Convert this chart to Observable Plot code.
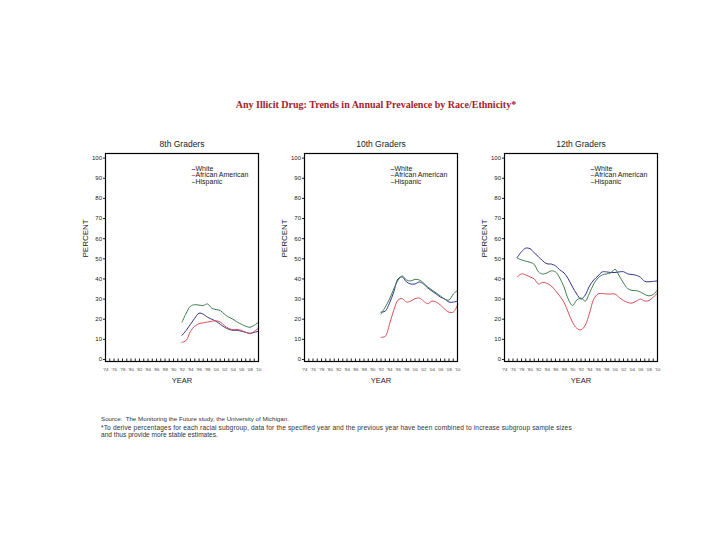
<!DOCTYPE html>
<html>
<head>
<meta charset="utf-8">
<script src="https://cdn.jsdelivr.net/npm/d3@7"></script>
<script src="https://cdn.jsdelivr.net/npm/@observablehq/plot@0.6"></script>
<style>
  html, body { margin: 0; padding: 0; background: #fff; }
  #page { position: relative; width: 728px; height: 546px; overflow: hidden; font-family: "Liberation Sans", Arial, sans-serif; color: #222; }
  .abs { position: absolute; white-space: nowrap; }
  #title { left: 0; width: 752px; top: 99px; text-align: center; font-family: "Liberation Serif", "Times New Roman", serif; font-weight: bold; font-size: 10px; color: #a01e2a; }
  .foot { left: 101px; font-size: 6.2px; color: #333; }
  .panel { position: absolute; }
</style>
</head>
<body>
<div id="page">
  <div id="title" class="abs">Any Illicit Drug: Trends in Annual Prevalence by Race/Ethnicity*</div>
  <div class="panel" id="p8" style="left:80px;top:130px"></div>
  <div class="panel" id="p10" style="left:279px;top:130px"></div>
  <div class="panel" id="p12" style="left:479px;top:130px"></div>
  <div class="abs foot" style="top:415px">Source:&nbsp; The Monitoring the Future study, the University of Michigan.</div>
  <div class="abs foot" style="top:423.5px;font-size:6.6px;letter-spacing:0.13px">*To derive percentages for each racial subgroup, data for the specified year and the previous year have been combined to increase subgroup sample sizes</div>
  <div class="abs foot" style="top:430.5px;font-size:6.6px">and thus provide more stable estimates.</div>
</div>
<script>
// ---- data ----
const seriesNames = ["White", "African American", "Hispanic"];
const seriesColors = ["#34348f", "#d9505a", "#3e7f52"];
const yTicks = [0, 10, 20, 30, 40, 50, 60, 70, 80, 90, 100];
const allYears = d3.range(1974, 2011);
const labelYears = d3.range(1974, 2011, 2);

const years8 = d3.range(1992, 2011);
const white8 = [12, 14.5, 17.5, 20.5, 23, 22.5, 21, 20, 19, 17.5, 16, 15, 14.5, 14.5, 14, 13.5, 13, 13.5, 14];
const aa8 = [8.5, 9.5, 14, 16.5, 17.8, 18.2, 18.6, 19, 19.2, 18.6, 16.8, 15.4, 14.8, 14.9, 14.4, 13.5, 12.8, 14, 15.5];
const hisp8 = [18.5, 23, 26.5, 27.2, 27, 26.8, 27.6, 25.5, 24.8, 24.3, 22.5, 21, 20, 18.5, 17.5, 16.5, 16, 17, 18.5];

const years10 = d3.range(1992, 2011);
const white10 = [23.5, 24, 28, 33.5, 40, 41, 38.5, 37.5, 37.5, 38.5, 37.5, 35.5, 34, 32.5, 31, 30, 28.5, 28.5, 29];
const aa10 = [11, 11.5, 17.5, 24.5, 29.5, 30.2, 28.5, 29, 30.2, 30.5, 29, 27.7, 29, 28.5, 27, 25, 23.5, 23.5, 27];
const hisp10 = [22.5, 26, 30, 35, 39.3, 41.5, 39.5, 39, 39.8, 39.5, 38, 36, 34.5, 33, 31.5, 30, 29.5, 32.5, 34.3];

const years12 = d3.range(1977, 2011);
const white12 = [50.7, 53.5, 55.3, 55, 53, 51, 49, 47.5, 47.4, 46.5, 44.5, 43, 40, 36, 32.5, 30, 32, 36.5, 39.5, 41.5, 43.5, 43.5, 43.2, 43.2, 43.5, 43.6, 42.5, 42.2, 41.8, 40.8, 38.8, 38.6, 38.8, 39];
const aa12 = [41, 42.5, 42, 41, 40, 37.5, 38.3, 37.8, 36.5, 34.2, 31.5, 28.4, 23.4, 18.5, 15.5, 14.7, 17, 23, 30, 32.5, 32.8, 32.5, 32.5, 32.5, 30.8, 29.3, 28.3, 28, 29, 30, 29, 29.3, 31, 33];
const hisp12 = [50.3, 49.5, 48.8, 48.3, 47.2, 43.5, 42.4, 43, 44, 43.5, 40.5, 36, 30, 26.8, 29.5, 30.5, 29, 33, 37.5, 40.5, 42, 42.5, 43, 44.8, 41.5, 38, 35.2, 34.3, 34.2, 33.5, 32.3, 31.6, 32.3, 34.5];

function rows(years, w, a, h) {
  const out = [];
  years.forEach((yr, i) => {
    out.push({year: yr, value: w[i], group: seriesNames[0]});
    out.push({year: yr, value: a[i], group: seriesNames[1]});
    out.push({year: yr, value: h[i], group: seriesNames[2]});
  });
  return out;
}

function panel(title, data) {
  const font = "Liberation Sans, Arial, sans-serif";
  const legendMarks = [];
  seriesNames.forEach((s, i) => {
    legendMarks.push(Plot.text(["–"], {frameAnchor: "top-left", dx: 86, dy: 12.5 + i * 6.3, fill: seriesColors[i], fontSize: 7, textAnchor: "start", fontWeight: "bold"}));
    legendMarks.push(Plot.text([s], {frameAnchor: "top-left", dx: 90, dy: 12.5 + i * 6.3, fill: "#222", fontSize: 7, textAnchor: "start"}));
  });
  return Plot.plot({
    width: 190,
    height: 265,
    marginLeft: 25,
    marginRight: 12,
    marginTop: 23,
    marginBottom: 34,
    style: {fontFamily: font, background: "transparent", overflow: "visible"},
    x: {domain: [1974, 2010]},
    y: {domain: [-1, 102.3]},
    color: {domain: seriesNames, range: seriesColors},
    marks: [
      Plot.axisY({ticks: yTicks, tickSize: 2, tickPadding: 1.5, fontSize: 6, label: null, fill: "#222"}),
      Plot.axisX({ticks: allYears, tickSize: -2.5, tickFormat: () => "", label: null}),
      Plot.axisX({ticks: labelYears, tickSize: 0, tickPadding: 6, fontSize: 4.3, label: null, fill: "#444",
        tickFormat: d => "'" + String(d).slice(2)}),
      Plot.line(data, {x: "year", y: "value", z: "group", stroke: "group", strokeWidth: 1, curve: "catmull-rom"}),
      Plot.frame({stroke: "#000", strokeWidth: 1.2}),
      Plot.text([title], {frameAnchor: "top", dy: -13, fontSize: 8.5, fill: "#222"}),
      Plot.text(["PERCENT"], {frameAnchor: "left", dx: -20.5, rotate: -90, fontSize: 8, fill: "#222"}),
      Plot.text(["YEAR"], {frameAnchor: "bottom", dy: 21, fontSize: 7.5, fill: "#222"}),
      ...legendMarks
    ]
  });
}

document.getElementById("p8").appendChild(panel("8th Graders", rows(years8, white8, aa8, hisp8)));
document.getElementById("p10").appendChild(panel("10th Graders", rows(years10, white10, aa10, hisp10)));
document.getElementById("p12").appendChild(panel("12th Graders", rows(years12, white12, aa12, hisp12)));
</script>
</body>
</html>
